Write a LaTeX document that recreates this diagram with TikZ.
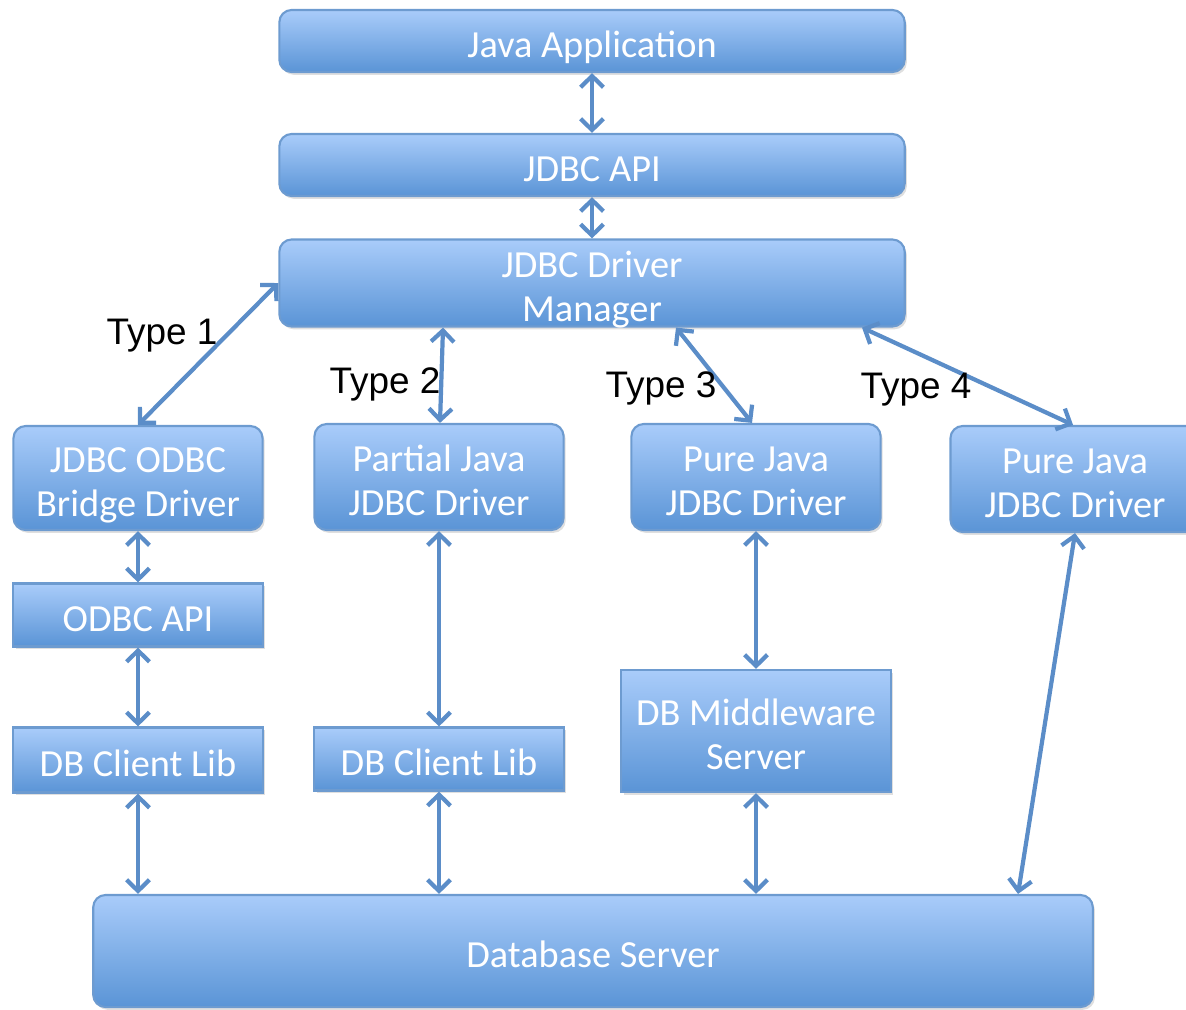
\documentclass[tikz,border=0pt]{standalone}
\usepackage{fontspec}
\setmainfont{Carlito}
\newfontfamily\typefont{Liberation Sans}
\usepackage{tikz}
\usetikzlibrary{calc,shapes,arrows.meta,positioning,shadows}
\definecolor{boxtop}{HTML}{A9CCFA}
\definecolor{boxbot}{HTML}{5A94D6}
\definecolor{boxline}{HTML}{6D9BD0}
\definecolor{linkblue}{HTML}{5B8DC8}

\begin{document}
\begin{tikzpicture}[x=0.01cm, y=-0.01cm, >={Straight Barb[length=3.2pt,width=6.5pt]}]
		
		\tikzstyle{all} = [draw=boxline, line width=0.6pt, top color=boxtop, bottom color=boxbot, text=white, inner sep=0pt, align=center, font=\fontsize{10.9}{12.5}\selectfont, text height=12.4pt, text depth=3pt, drop shadow={shadow xshift=0.6pt, shadow yshift=-0.8pt, opacity=0.25}]
		\tikzstyle{block} = [rectangle, rounded corners=3.5pt, all]
		\tikzstyle{flat} = [rectangle, all]
		\tikzstyle{twoline} = [text height=21.8pt, text depth=0pt]
		\tikzstyle{link} = [<->, draw=linkblue, line width=1.2pt]
		\tikzstyle{label} = [font=\typefont\fontsize{10.5}{12}\selectfont, inner sep=0pt]
		
		\useasboundingbox (0,0) rectangle (1186,1009);
		
		% top of the stack
		\node [block, minimum width=6.25cm, minimum height=0.62cm] (app) at (592,41) {Java Application};
		\node [block, minimum width=6.25cm, minimum height=0.62cm] (api) at (592,165) {JDBC API};
		\node [block, twoline, minimum width=6.25cm, minimum height=0.87cm] (manager) at (592,283) {JDBC Driver\\Manager};
		
		% the four driver types
		\node [block, twoline, minimum width=2.49cm, minimum height=1.04cm] (bridge) at (138,478) {JDBC ODBC\\Bridge Driver};
		\node [block, twoline, minimum width=2.49cm, minimum height=1.06cm] (partial) at (439,477) {Partial Java\\JDBC Driver};
		\node [block, twoline, minimum width=2.49cm, minimum height=1.06cm] (pureA) at (756,477) {Pure Java\\JDBC Driver};
		\node [block, twoline, minimum width=2.49cm, minimum height=1.06cm] (pureB) at (1075,479) {Pure Java\\JDBC Driver};
		
		\node [flat, minimum width=2.49cm, minimum height=0.63cm] (odbc) at (138,615) {ODBC API};
		\node [flat, minimum width=2.49cm, minimum height=0.65cm] (libA) at (138,760) {DB Client Lib};
		\node [flat, minimum width=2.49cm, minimum height=0.63cm] (libB) at (439,759) {DB Client Lib};
		\node [flat, twoline, minimum width=2.69cm, minimum height=1.22cm] (middle) at (756,731) {DB Middleware\\Server};
		
		\node [block, minimum width=9.99cm, minimum height=1.12cm] (db) at (593,951) {Database Server};
		
		\draw [link] (app) -- (api);
		\draw [link] (api) -- (manager);
		\draw [link] (manager.west) -- (bridge.north);
		\draw [link] ($(manager.south)+(-149,0)$) -- ($(partial.north)+(1,0)$);
		\draw [link] ($(manager.south)+(84,0)$) -- ($(pureA.north)+(-4,0)$);
		\draw [link] ($(manager.south)+(270,0)$) -- ($(pureB.north)+(-2,0)$);
		\draw [link] (bridge) -- (odbc);
		\draw [link] (odbc) -- (libA);
		\draw [link] (libA) -- (libA |- db.north);
		\draw [link] (partial) -- (libB);
		\draw [link] (libB) -- (libB |- db.north);
		\draw [link] (pureA) -- (middle);
		\draw [link] (middle) -- (middle |- db.north);
		\draw [link] (pureB.south) -- ($(db.north)+(425,0)$);
		
		\node [label] (t1) at (162,336) {Type 1};
		\node [label] (t2) at (385,384) {Type 2};
		\node [label] (t3) at (661,388) {Type 3};
		\node [label] (t4) at (916,390) {Type 4};
		
		\end{tikzpicture}
\end{document}
